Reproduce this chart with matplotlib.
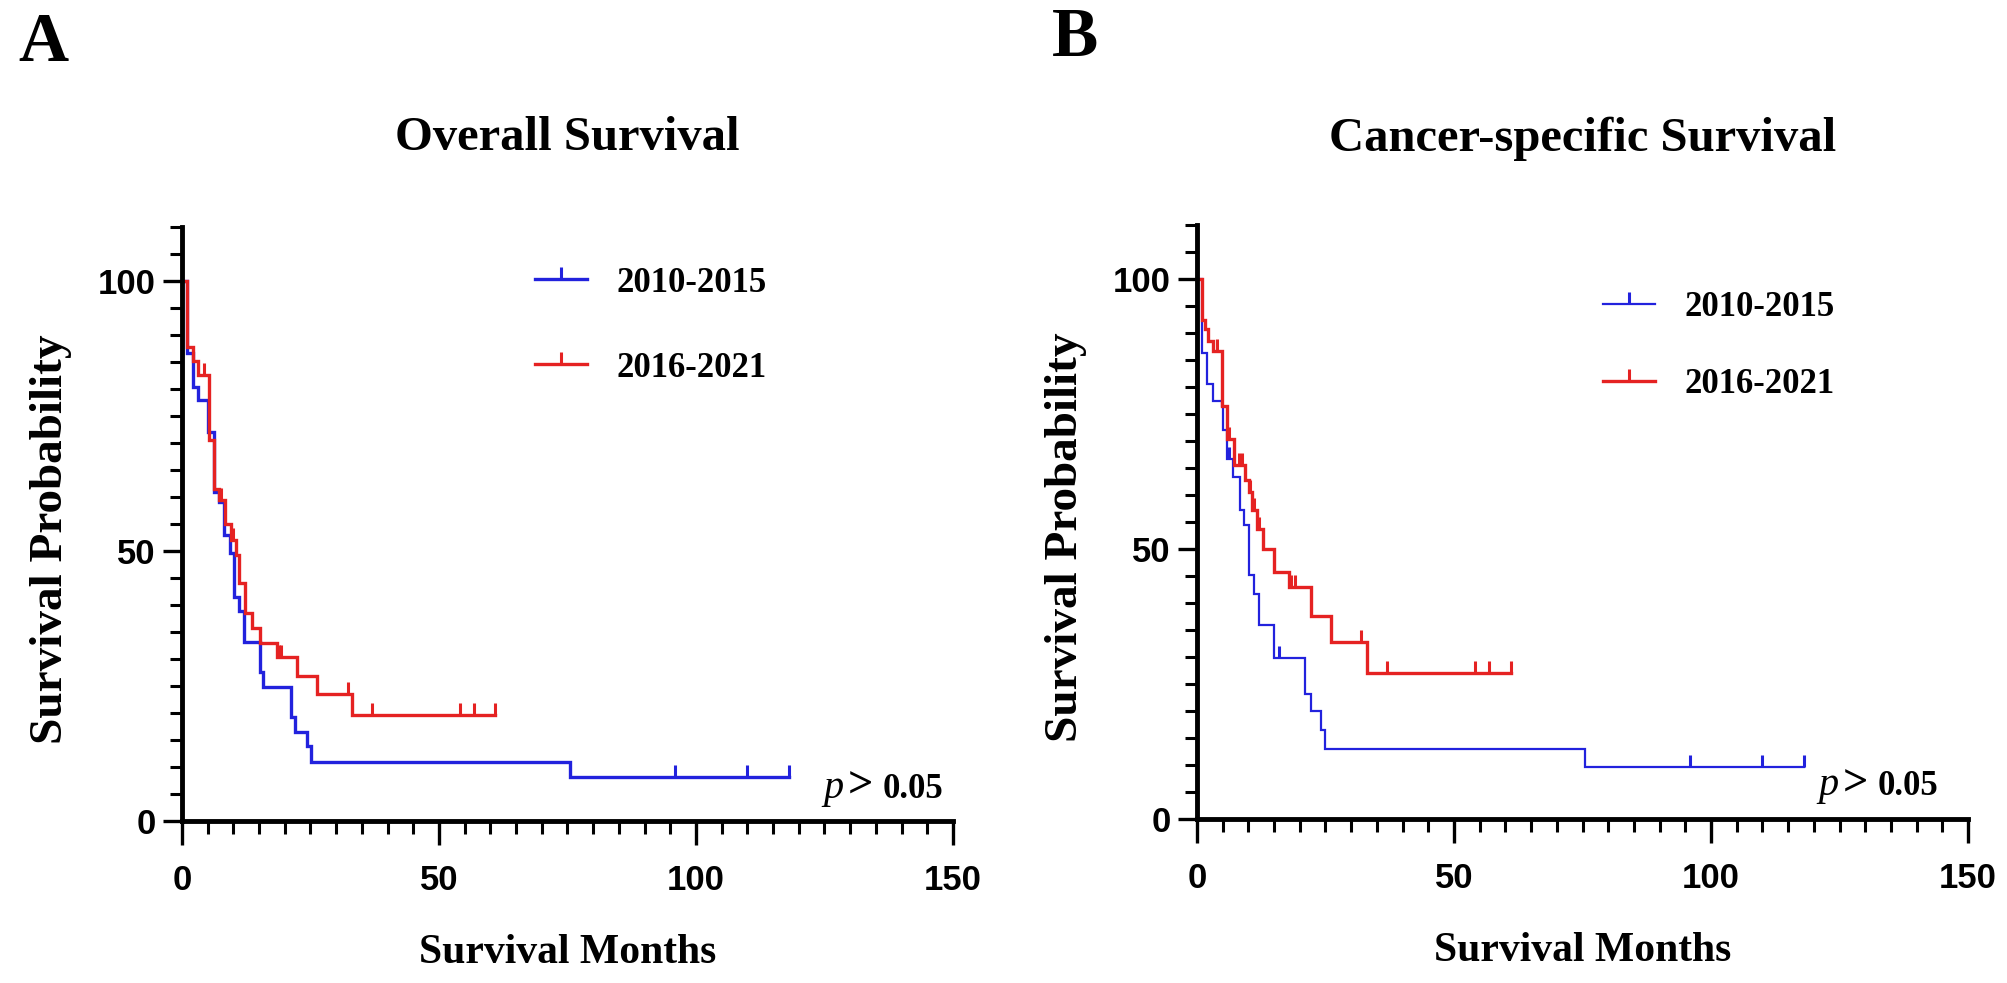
import numpy as np
import matplotlib.pyplot as plt
from matplotlib.lines import Line2D
from matplotlib.ticker import MultipleLocator

# Overall survival (panel A): event times (months) and survival (%) after each step
os_blue_t = [0.9, 2.2, 3.2, 5.1, 6.2, 7.3, 8.2, 9.3, 10.1, 11.2, 12.1, 15.1, 15.8,
             21.2, 22.0, 24.3, 25.1, 75.5]
os_blue_s = [86.7, 80.4, 78.0, 72.1, 61.0, 59.1, 53.0, 49.6, 41.5, 38.8, 33.2, 27.6, 24.9,
             19.3, 16.5, 13.8, 11.0, 8.1]
os_blue_cens = [96, 110, 118]

os_red_t = [0.9, 2.2, 3.2, 5.3, 6.2, 7.3, 8.4, 9.5, 10.5, 11.2, 12.3, 13.6, 15.2,
            18.4, 22.3, 26.2, 33.0]
os_red_s = [87.8, 85.1, 82.6, 70.6, 61.5, 59.5, 55.0, 52.0, 49.3, 44.0, 38.5, 35.7, 32.9,
            30.4, 26.9, 23.5, 19.6]
os_red_cens = [4.2, 7.6, 10.0, 18.8, 19.3, 32.3, 36.9, 54.0, 56.9, 61.0]

# Cancer-specific survival (panel B)
css_blue_t = [1.0, 1.9, 3.1, 4.9, 5.1, 5.8, 7.0, 8.3, 9.2, 10.1, 11.1, 12.0, 14.9,
              21.1, 22.1, 24.1, 25.0, 75.5]
css_blue_s = [86.3, 80.6, 77.4, 76.4, 72.0, 66.6, 63.4, 57.3, 54.4, 45.2, 41.7, 35.9, 29.9,
              23.2, 20.0, 16.5, 13.0, 9.7]
css_blue_cens = [6.3, 15.9, 96, 110, 118]

css_red_t = [1.0, 1.6, 2.2, 3.2, 4.9, 5.8, 7.2, 9.4, 10.1, 10.7, 11.7, 12.9, 14.9,
             18.0, 22.1, 26.0, 33.0]
css_red_s = [92.4, 90.8, 88.6, 86.6, 76.4, 70.4, 65.5, 62.7, 60.5, 57.3, 53.8, 50.0, 45.8,
             43.0, 37.6, 32.8, 27.0]
css_red_cens = [3.9, 6.2, 8.1, 8.7, 10.4, 11.0, 12.0, 18.3, 19.0, 32.0, 36.9, 54.0, 56.9, 61.0]

groups = ['2010-2015', '2016-2021']
BLUE = '#2222dd'
RED = '#e52222'
SERIF = 'Liberation Serif'
SANS = 'Liberation Sans'


def km_curve(ax, t, s, cens, color, lw):
    t = np.array(t)
    s = np.array(s)
    cens = np.array(cens, dtype=float)
    end = max(t.max(), cens.max())
    xs = np.concatenate([[0], t, [end]])
    ys = np.concatenate([[100], s, [s[-1]]])
    ax.step(xs, ys, where='post', color=color, lw=lw, solid_joinstyle='miter')
    # level of the curve at each censor time
    idx = np.searchsorted(xs, cens, side='right') - 1
    ax.plot(cens, ys[idx], ls='none', marker=2, markersize=9, mew=2.2, color=color)


def setup_axes(ax):
    for side in ['top', 'right']:
        ax.spines[side].set_visible(False)
    for side in ['left', 'bottom']:
        ax.spines[side].set_linewidth(3.5)
    ax.set_xlim(0, 150)
    ax.set_ylim(0, 110)
    ax.xaxis.set_major_locator(MultipleLocator(50))
    ax.xaxis.set_minor_locator(MultipleLocator(5))
    ax.yaxis.set_major_locator(MultipleLocator(50))
    ax.yaxis.set_minor_locator(MultipleLocator(5))
    ax.tick_params(axis='x', which='major', length=17, width=2.4, pad=14)
    ax.tick_params(axis='x', which='minor', length=9, width=2.2)
    ax.tick_params(axis='y', which='major', length=14, width=2.4, pad=5)
    ax.tick_params(axis='y', which='minor', length=8.5, width=2.2)
    for lab in ax.get_xticklabels() + ax.get_yticklabels():
        lab.set_fontfamily(SANS)
        lab.set_fontweight('bold')
        lab.set_fontsize(25)
    ax.set_xlabel('Survival Months', fontfamily=SERIF, fontweight='bold', fontsize=30)
    ax.xaxis.set_label_coords(0.5, -0.19)
    ax.set_ylabel('Survival Probability', fontfamily=SERIF, fontweight='bold', fontsize=34)
    ax.yaxis.set_label_coords(-0.143, 0.475)


def p_text(ax, x_p, x_gt, x_num, y):
    ax.text(x_p, y, 'p', fontfamily=SERIF, fontstyle='italic', fontsize=29, va='baseline')
    ax.text(x_gt, y, '>', fontfamily=SERIF, fontweight='bold', fontsize=32, va='baseline')
    ax.text(x_num, y, '0.05', fontfamily=SERIF, fontweight='bold', fontsize=25, va='baseline')


fig = plt.figure(figsize=(20.08, 9.83), dpi=100)

# Panel A
axA = fig.add_axes([0.0906, 0.1648, 0.3840, 0.6043])
km_curve(axA, os_blue_t, os_blue_s, os_blue_cens, BLUE, 2.4)
km_curve(axA, os_red_t, os_red_s, os_red_cens, RED, 2.4)
setup_axes(axA)
axA.text(0.5, 1.13, 'Overall Survival', transform=axA.transAxes, ha='center', va='baseline',
         fontfamily=SERIF, fontweight='bold', fontsize=35)
p_text(axA, 124.8, 129.5, 136.3, 4.3)
handlesA = [Line2D([], [], color=BLUE, lw=2.4, marker=2, markersize=9, mew=2.2),
            Line2D([], [], color=RED, lw=2.4, marker=2, markersize=9, mew=2.2)]
axA.legend(handlesA, groups, loc='center left', bbox_to_anchor=(0.458, 0.834), frameon=False,
           borderpad=0, borderaxespad=0, handlelength=1.5, handletextpad=0.85, labelspacing=1.5,
           prop={'family': SERIF, 'weight': 'bold', 'size': 25})

# Panel B
axB = fig.add_axes([0.5961, 0.1668, 0.3840, 0.6043])
km_curve(axB, css_blue_t, css_blue_s, css_blue_cens, BLUE, 1.6)
km_curve(axB, css_red_t, css_red_s, css_red_cens, RED, 2.4)
setup_axes(axB)
axB.text(0.5, 1.125, 'Cancer-specific Survival', transform=axB.transAxes, ha='center',
         va='baseline', fontfamily=SERIF, fontweight='bold', fontsize=35)
p_text(axB, 120.9, 125.6, 132.4, 4.4)
handlesB = [Line2D([], [], color=BLUE, lw=1.6, marker=2, markersize=9, mew=2.2),
            Line2D([], [], color=RED, lw=2.4, marker=2, markersize=9, mew=2.2)]
axB.legend(handlesB, groups, loc='center left', bbox_to_anchor=(0.526, 0.796), frameon=False,
           borderpad=0, borderaxespad=0, handlelength=1.5, handletextpad=0.85, labelspacing=1.25,
           prop={'family': SERIF, 'weight': 'bold', 'size': 25})

fig.text(18 / 2008, 1 - 61 / 983, 'A', fontfamily=SERIF, fontweight='bold', fontsize=50,
         va='baseline')
fig.text(1052 / 2008, 1 - 56 / 983, 'B', fontfamily=SERIF, fontweight='bold', fontsize=50,
         va='baseline')

fig.savefig('out.png', dpi=100)
